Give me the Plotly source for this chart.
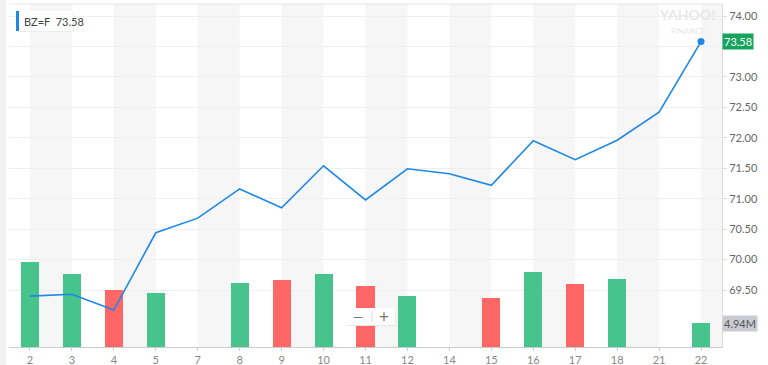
import plotly.graph_objects as go

categories = ["2", "3", "4", "5", "7", "8", "9", "10", "11", "12", "14", "15", "16", "17", "18", "21", "22"]
price = [69.40, 69.43, 69.17, 70.44, 70.68, 71.16, 70.85, 71.54, 70.98, 71.49, 71.41, 71.22, 71.95, 71.64, 71.96, 72.42, 73.58]
volume_m = [17.5, 15.0, 11.7, 11.1, None, 13.2, 13.8, 15.0, 12.6, 10.5, None, 10.1, 15.4, 13.0, 14.0, None, 4.94]
vol_up = [True, True, False, True, None, True, False, True, False, True, None, False, True, False, True, None, True]
price_ticks = [69.50, 70.00, 70.50, 71.00, 71.50, 72.00, 72.50, 73.00, 73.50, 74.00]

GREEN = "#46c48b"
RED = "#ff6666"
BLUE = "#1e88e5"

W, H = 768, 365
L, R, T, B = 9, 46, 4, 18
PW, PH = W - L - R, H - T - B

def px(x):
    return (x - L) / PW

def py(y):
    return (H - B - y) / PH

n = len(categories)
idx = list(range(n))
bar_colors = [GREEN if u else RED for u in vol_up]
vol_labels = ["" if v is None else "%.2fM" % v for v in volume_m]
# the 73.50 label is hidden behind the last-price tag in the reference
price_ticktext = ["" if abs(t - 73.5) < 1e-9 else "%.2f" % t for t in price_ticks]

fig = go.Figure()
fig.add_trace(go.Bar(x=idx, y=volume_m, marker=dict(color=bar_colors, line=dict(width=0)),
                     width=0.43, yaxis="y", hoverinfo="skip", showlegend=False))
fig.add_trace(go.Scatter(x=idx, y=price, mode="lines", line=dict(color=BLUE, width=1.6),
                         yaxis="y2", showlegend=False))
fig.add_trace(go.Scatter(x=[idx[-1]], y=[price[-1]], mode="markers",
                         marker=dict(color=BLUE, size=7), yaxis="y2", showlegend=False))

shapes = []
for i in range(0, n, 2):
    shapes.append(dict(type="rect", xref="x", yref="paper", x0=i, x1=min(i + 1, n - 0.5),
                       y0=0, y1=1, fillcolor="#f6f6f6", line=dict(width=0), layer="below"))
# left edge shading
shapes.append(dict(type="rect", xref="paper", yref="paper", x0=px(0), x1=px(6), y0=-B / PH, y1=1 + T / PH,
                   fillcolor="#f2f2f2", line=dict(width=0), layer="below"))
# legend box
shapes.append(dict(type="rect", xref="paper", yref="paper", x0=px(17), x1=px(74), y0=py(32), y1=py(12),
                   fillcolor="#ececec", line=dict(width=0)))
shapes.append(dict(type="rect", xref="paper", yref="paper", x0=px(16), x1=px(73), y0=py(31), y1=py(11),
                   fillcolor="white", line=dict(width=0)))
shapes.append(dict(type="rect", xref="paper", yref="paper", x0=px(16), x1=px(19), y0=py(31), y1=py(11),
                   fillcolor=BLUE, line=dict(width=0)))
# zoom control box
shapes.append(dict(type="rect", xref="paper", yref="paper", x0=px(346), x1=px(396), y0=py(326), y1=py(309),
                   fillcolor="#e8e8e8", line=dict(width=0)))
shapes.append(dict(type="rect", xref="paper", yref="paper", x0=px(345), x1=px(395), y0=py(325), y1=py(308),
                   fillcolor="white", line=dict(width=0)))
shapes.append(dict(type="line", xref="paper", yref="paper", x0=px(372), x1=px(372), y0=py(322), y1=py(311),
                   line=dict(color="#dddddd", width=1)))
# top border line
shapes.append(dict(type="line", xref="paper", yref="paper", x0=0, x1=1, y0=1, y1=1,
                   line=dict(color="#e6e6e6", width=1)))

annotations = [
    dict(xref="paper", yref="paper", x=px(22), y=py(21.5), xanchor="left", yanchor="middle",
         text="BZ=F  73.58", showarrow=False, font=dict(family="Lato", size=11, color="#444")),
    dict(xref="paper", yref="y2", x=1, y=price[-1], xanchor="left", yanchor="middle", xshift=0,
         text="73.58", showarrow=False, bgcolor="#16a35e", borderpad=1,
         font=dict(family="Lato", size=11, color="white")),
    dict(xref="paper", yref="y", x=1, y=volume_m[-1], xanchor="left", yanchor="middle",
         text=vol_labels[-1], showarrow=False, bgcolor="#c9cbd3", borderpad=1,
         font=dict(family="Lato", size=11, color="#555")),
    dict(xref="paper", yref="paper", x=px(687), y=py(15), xanchor="center", yanchor="middle",
         text="<b>YAHOO!</b>", showarrow=False, font=dict(family="Lato", size=14, color="#e8e8e8")),
    dict(xref="paper", yref="paper", x=px(688), y=py(31), xanchor="center", yanchor="middle",
         text="FINANCE", showarrow=False, font=dict(family="Lato", size=8, color="#e8e8e8")),
    dict(xref="paper", yref="paper", x=px(358), y=py(316.5), xanchor="center", yanchor="middle",
         text="—", showarrow=False, font=dict(family="Lato", size=13, color="#777")),
    dict(xref="paper", yref="paper", x=px(384), y=py(316.5), xanchor="center", yanchor="middle",
         text="+", showarrow=False, font=dict(family="Lato", size=17, color="#777")),
]

fig.update_layout(
    width=W, height=H,
    margin=dict(l=L, r=R, t=T, b=B, autoexpand=False),
    paper_bgcolor="white", plot_bgcolor="white",
    shapes=shapes, annotations=annotations,
    bargap=0,
    xaxis=dict(range=[-0.5, n - 0.5], tickmode="array", tickvals=idx, ticktext=categories,
               showgrid=False, zeroline=False, showline=True, linecolor="#cccccc",
               ticks="outside", ticklen=3, tickcolor="#cccccc", automargin=False,
               tickfont=dict(family="Lato", size=11, color="#888")),
    yaxis=dict(range=[0, 70.6], visible=False, showgrid=False, fixedrange=True, automargin=False),
    yaxis2=dict(overlaying="y", side="right", range=[68.564, 74.197], tickmode="array",
                tickvals=price_ticks, ticktext=price_ticktext,
                showgrid=True, gridcolor="#efefef", zeroline=False, automargin=False,
                showline=True, linecolor="#dddddd", ticks="outside", ticklen=4, tickcolor="#dddddd",
                tickfont=dict(family="Lato", size=11, color="#666")),
)

fig.write_html("out.html")
